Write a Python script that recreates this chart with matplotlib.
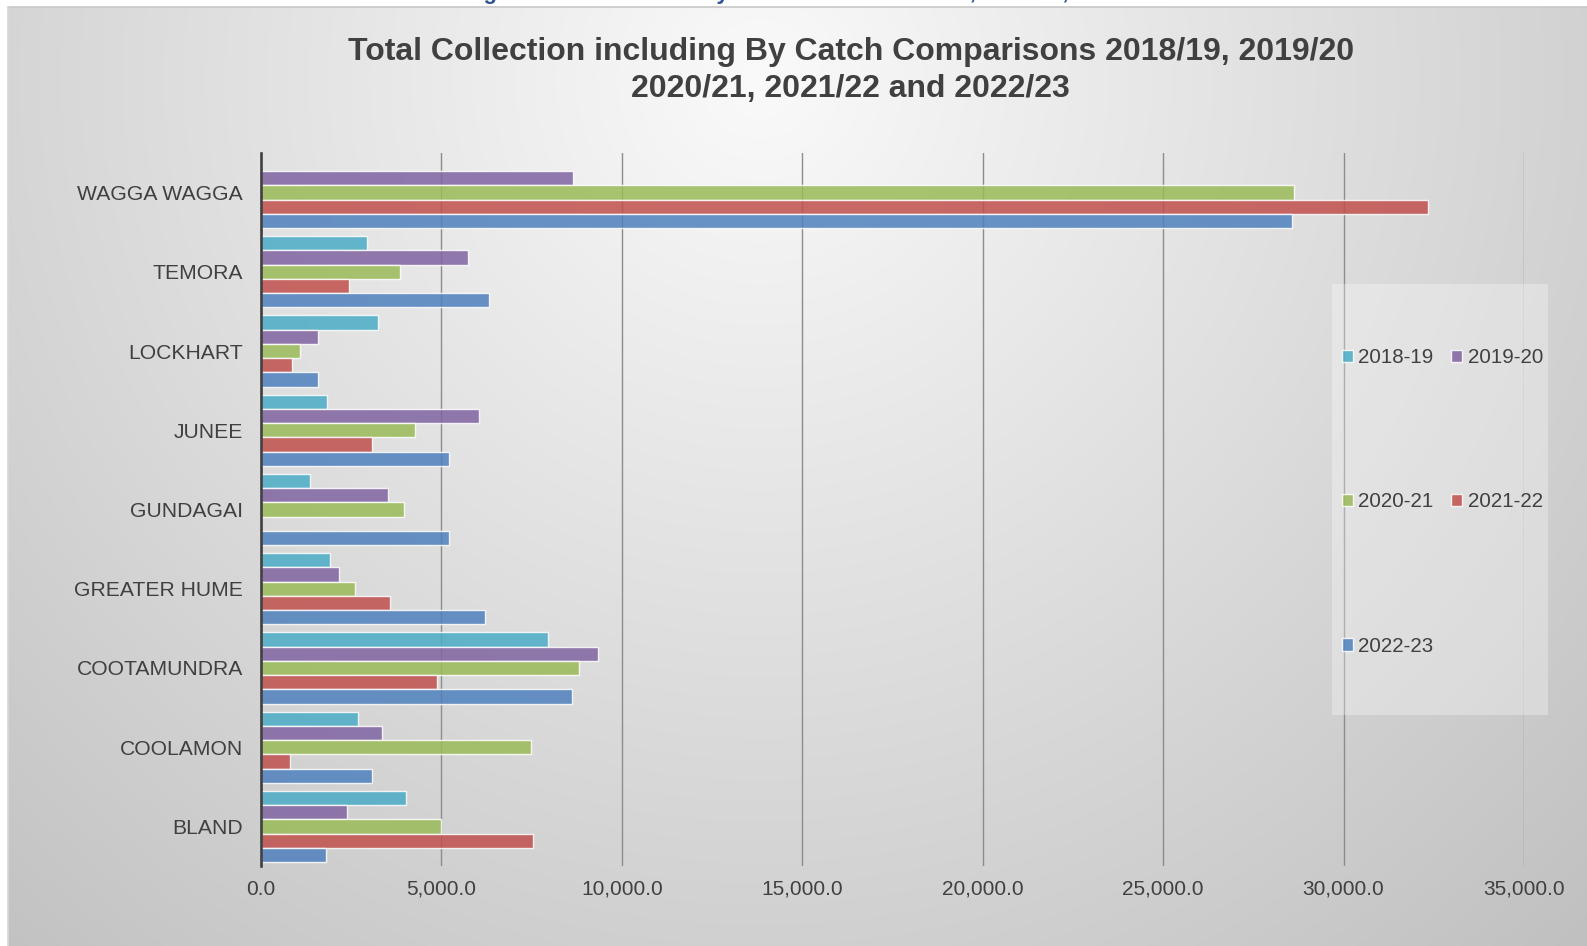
import numpy as np
import matplotlib.pyplot as plt
from matplotlib.patches import Rectangle

# data (tonnes)
councils = ["BLAND", "COOLAMON", "COOTAMUNDRA", "GREATER HUME", "GUNDAGAI",
            "JUNEE", "LOCKHART", "TEMORA", "WAGGA WAGGA"]
years = ["2018-19", "2019-20", "2020-21", "2021-22", "2022-23"]

y2018_19 = [4030, 2700, 7940, 1920, 1350, 1830, 3230, 2950, 0]
y2019_20 = [2370, 3340, 9330, 2170, 3530, 6040, 1590, 5750, 8650]
y2020_21 = [5000, 7470, 8820, 2610, 3960, 4270, 1070, 3860, 28620]
y2021_22 = [7540, 810, 4870, 3580, 0, 3080, 870, 2450, 32340]
y2022_23 = [1800, 3080, 8620, 6220, 5210, 5210, 1590, 6330, 28570]

series = [y2018_19, y2019_20, y2020_21, y2021_22, y2022_23]
colors = ["#4BACC6", "#8064A2", "#9BBB59", "#C0504D", "#4F81BD"]

W, H = 1587, 946
fig = plt.figure(figsize=(W / 100, H / 100), dpi=100)
fig.patch.set_facecolor("white")
plt.rcParams["font.family"] = ["Liberation Sans", "DejaVu Sans"]

# 1 radial grey background panel
bg = fig.add_axes([8 / W, 0, 1 - 8 / W, 1 - 7 / H], zorder=-10)
xx, yy = np.meshgrid(np.arange(8, W), np.arange(7, H))
r = np.sqrt(((xx - 760) / 1000) ** 2 + ((yy - 80) / 1000) ** 2)
shade = np.clip(0.98 - 0.19 * r, 0.75, 1)
bg.imshow(np.dstack([shade] * 3), aspect="auto", extent=[0, 1, 0, 1])
bg.axis("off")
fig.add_artist(plt.Line2D([8 / W, 1], [1 - 7 / H] * 2, color="#c8c8c8", lw=1.2))
fig.add_artist(plt.Line2D([8 / W] * 2, [0, 1 - 7 / H], color="#d8d8d8", lw=1.2))

# caption of the page above, cut by the top edge as in the source
fig.text(330 / W, 1.0 + 1 / H, "Table 6: Tonnage Collected Overall by Council Areas 2018/19, 2019/20, 2020/21 to 2022/23",
         ha="left", va="baseline", fontsize=16, fontweight="bold", color="#2F5496")

# 2 bars
ax = fig.add_axes([261 / W, 1 - 866 / H, (1524 - 261) / W, (866 - 153) / H])
ax.set_facecolor("none")
pos = np.arange(len(councils))
h = 0.18
bars = []
for i, (vals, col) in enumerate(zip(series, colors)):
    b = ax.barh(pos + (2 - i) * h, vals, height=h, color=col, alpha=0.85,
                edgecolor=(1, 1, 1, 0.6), linewidth=1, label=years[i], zorder=3)
    bars.append(b)

ax.set_xlim(0, 35000)
ax.set_ylim(-0.5, len(councils) - 0.5)
ax.set_xticks(np.arange(0, 35001, 5000))
ax.set_xticklabels([f"{v:,.1f}" for v in np.arange(0, 35001, 5000)])
ax.set_yticks(pos)
ax.set_yticklabels(councils)
ax.tick_params(axis="x", length=0, pad=10, labelsize=15, labelcolor="#404040")
ax.tick_params(axis="y", length=0, pad=13, labelsize=15.2, labelcolor="#404040")
ax.grid(axis="x", color="#8c8c8c", linewidth=1, zorder=1)
ax.set_axisbelow(True)
for s in ["top", "right", "bottom"]:
    ax.spines[s].set_visible(False)
ax.spines["left"].set_color("#404040")
ax.spines["left"].set_linewidth(1.9)
ax.spines["left"].set_zorder(4)

# 3 title
fig.text(0.536, 1 - 52 / H, "Total Collection including By Catch Comparisons 2018/19, 2019/20",
         ha="center", va="center", fontsize=23, fontweight="bold", color="#404040")
fig.text(0.536, 1 - 89 / H, "2020/21, 2021/22 and 2022/23",
         ha="center", va="center", fontsize=23, fontweight="bold", color="#404040")

# 4 legend box on the right
ax.add_patch(Rectangle((1332 / W, 1 - 715 / H), 216 / W, 431 / H, transform=fig.transFigure,
                       facecolor="white", alpha=0.3, edgecolor="none", zorder=5, clip_on=False))
order = [0, 2, 4, 1, 3]
leg = ax.legend([bars[i] for i in order], [years[i] for i in order], ncol=2,
                loc="upper left", bbox_to_anchor=(1342 / W, 1 - 348 / H),
                bbox_transform=fig.transFigure, frameon=False, fontsize=14.8,
                handlelength=0.55, handleheight=0.55, handletextpad=0.25,
                columnspacing=0.85, labelspacing=6.1, borderpad=0, borderaxespad=0)
for t in leg.get_texts():
    t.set_color("#404040")
leg.set_zorder(6)

plt.savefig("out.png", dpi=100)
